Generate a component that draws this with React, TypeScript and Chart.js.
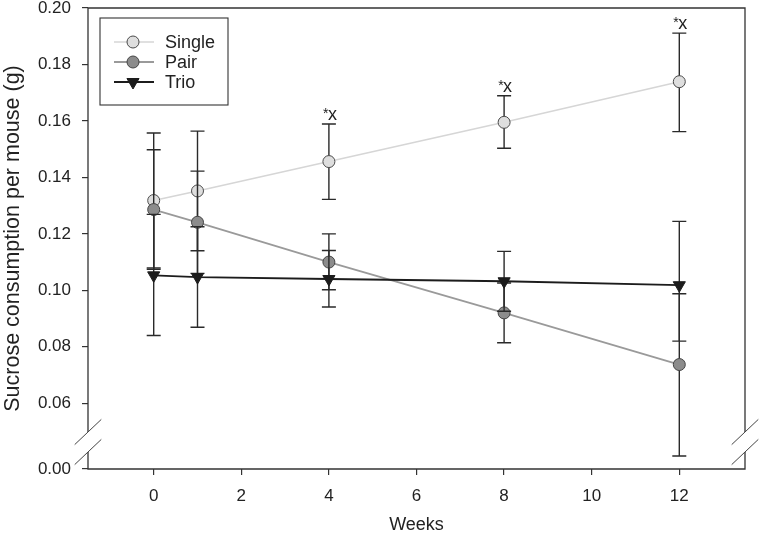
import React, { useEffect, useRef } from "react";
import { Chart, registerables } from "chart.js";

Chart.register(...registerables);

// ---------- data ----------
const weeks = [0, 1, 4, 8, 12];

const singleMean = [0.1318, 0.1352, 0.1456, 0.1595, 0.1739];
const singleUpper = [0.1557, 0.1564, 0.1589, 0.1689, 0.1911];
const singleLower = [0.1079, 0.114, 0.1322, 0.1503, 0.1562];

const pairMean = [0.1286, 0.1241, 0.11, 0.092, 0.0737];
const pairUpper = [0.1498, 0.1422, 0.12, 0.1026, 0.0988];
const pairLower = [0.1074, 0.106, 0.1002, 0.0814, 0.0413];

const trioMean = [0.1053, 0.1047, 0.104, 0.1032, 0.1018];
const trioUpper = [0.1269, 0.1225, 0.1141, 0.1138, 0.1244];
const trioLower = [0.084, 0.0869, 0.0941, 0.0926, 0.082];

const sigWeeks = [4, 8, 12];
const sigMark = "*";
const sigLetter = "x";

const xTicks = [0, 2, 4, 6, 8, 10, 12];
const yTicks = [0.0, 0.06, 0.08, 0.1, 0.12, 0.14, 0.16, 0.18, 0.2];
// value on the (broken) linear axis where the "0.00" label sits
const yBreakBase = 0.0367;
const X_MIN = -1.5;
const X_MAX = 13.5;
const Y_MAX = 0.2;

const FONT = "'Liberation Sans', Arial, Helvetica, sans-serif";
const INK = "#222222";
const AXIS = "#333333";

type Series = {
  label: string;
  mean: number[];
  upper: number[];
  lower: number[];
  line: string;
  lineWidth: number;
  fill: string;
  border: string;
  pointStyle: string;
  radius: number;
  rotation: number;
  order: number;
};

const series: Series[] = [
  { label: "Single", mean: singleMean, upper: singleUpper, lower: singleLower, line: "#d6d6d6", lineWidth: 1.6, fill: "#dedede", border: "#4a4a4a", pointStyle: "circle", radius: 6, rotation: 0, order: 3 },
  { label: "Pair", mean: pairMean, upper: pairUpper, lower: pairLower, line: "#9a9a9a", lineWidth: 1.8, fill: "#8c8c8c", border: "#444444", pointStyle: "circle", radius: 6, rotation: 0, order: 2 },
  { label: "Trio", mean: trioMean, upper: trioUpper, lower: trioLower, line: "#1c1c1c", lineWidth: 1.8, fill: "#1c1c1c", border: "#1c1c1c", pointStyle: "triangle", radius: 7, rotation: 180, order: 1 },
];

// ---------- plugins ----------
const errorBarPlugin = {
  id: "errorBars",
  beforeDatasetDraw(chart: any, args: any) {
    const s = series[args.index];
    if (!s) return;
    const { ctx } = chart;
    const xs = chart.scales.x;
    const ys = chart.scales.y;
    ctx.save();
    ctx.strokeStyle = "#2a2a2a";
    ctx.lineWidth = 1.4;
    weeks.forEach((w, i) => {
      const px = xs.getPixelForValue(w);
      const pu = ys.getPixelForValue(s.upper[i]);
      const pl = ys.getPixelForValue(s.lower[i]);
      ctx.beginPath();
      ctx.moveTo(px, pu);
      ctx.lineTo(px, pl);
      ctx.moveTo(px - 7, pu);
      ctx.lineTo(px + 7, pu);
      ctx.moveTo(px - 7, pl);
      ctx.lineTo(px + 7, pl);
      ctx.stroke();
    });
    ctx.restore();
  },
};

const framePlugin = {
  id: "frame",
  afterDatasetsDraw(chart: any) {
    const { ctx, chartArea } = chart;
    const { left, right, top, bottom } = chartArea;
    const gapTop = bottom - 37;
    const gapBot = bottom - 17;
    ctx.save();
    ctx.strokeStyle = AXIS;
    ctx.lineWidth = 1.3;
    ctx.beginPath();
    ctx.moveTo(left, gapTop);
    ctx.lineTo(left, top);
    ctx.lineTo(right, top);
    ctx.lineTo(right, gapTop);
    ctx.moveTo(left, gapBot);
    ctx.lineTo(left, bottom);
    ctx.lineTo(right, bottom);
    ctx.lineTo(right, gapBot);
    ctx.stroke();
    ctx.lineWidth = 1;
    ctx.strokeStyle = "#444444";
    [left, right].forEach((ax) => {
      [gapTop, gapBot].forEach((yc) => {
        ctx.beginPath();
        ctx.moveTo(ax - 13.3, yc + 12.6);
        ctx.lineTo(ax + 13.3, yc - 12.6);
        ctx.stroke();
      });
    });
    ctx.restore();
  },
};

const annotationPlugin = {
  id: "sigLabels",
  afterDatasetsDraw(chart: any) {
    const { ctx } = chart;
    const xs = chart.scales.x;
    const ys = chart.scales.y;
    ctx.save();
    ctx.fillStyle = INK;
    sigWeeks.forEach((w) => {
      const i = weeks.indexOf(w);
      const px = xs.getPixelForValue(w);
      const py = ys.getPixelForValue(singleUpper[i]);
      ctx.textBaseline = "alphabetic";
      ctx.font = `18px ${FONT}`;
      ctx.textAlign = "left";
      ctx.fillText(sigLetter, px - 1, py - 4);
      ctx.font = `14px ${FONT}`;
      ctx.textAlign = "right";
      ctx.fillText(sigMark, px - 0.5, py - 6);
    });
    ctx.restore();
  },
};

const legendPlugin = {
  id: "customLegend",
  afterDatasetsDraw(chart: any) {
    const { ctx, chartArea } = chart;
    const bx = chartArea.left + 12;
    const by = chartArea.top + 10;
    const bw = 128;
    const bh = 87;
    ctx.save();
    ctx.fillStyle = "#ffffff";
    ctx.fillRect(bx, by, bw, bh);
    ctx.strokeStyle = AXIS;
    ctx.lineWidth = 1.1;
    ctx.strokeRect(bx, by, bw, bh);
    series.forEach((s, k) => {
      const cy = by + 24 + k * 20;
      const x0 = bx + 14;
      const x1 = bx + 54;
      const mx = bx + 33;
      ctx.strokeStyle = s.line;
      ctx.lineWidth = s.lineWidth;
      ctx.beginPath();
      ctx.moveTo(x0, cy);
      ctx.lineTo(x1, cy);
      ctx.stroke();
      ctx.fillStyle = s.fill;
      ctx.strokeStyle = s.border;
      ctx.lineWidth = 1;
      ctx.beginPath();
      if (s.pointStyle === "circle") {
        ctx.arc(mx, cy, s.radius, 0, Math.PI * 2);
      } else {
        const r = s.radius;
        ctx.moveTo(mx, cy + r);
        ctx.lineTo(mx - r * 0.866, cy - r / 2);
        ctx.lineTo(mx + r * 0.866, cy - r / 2);
        ctx.closePath();
      }
      ctx.fill();
      ctx.stroke();
      ctx.fillStyle = INK;
      ctx.font = `18px ${FONT}`;
      ctx.textAlign = "left";
      ctx.textBaseline = "middle";
      ctx.fillText(s.label, bx + 65, cy + 1);
    });
    ctx.restore();
  },
};

export default function App() {
  const ref = useRef<HTMLCanvasElement>(null);

  useEffect(() => {
    document.body.style.margin = "0";
    Chart.defaults.font.family = FONT;
    const datasets = series.map((s) => ({
      label: s.label,
      data: weeks.map((w, i) => ({ x: w, y: s.mean[i] })),
      showLine: true,
      borderColor: s.line,
      borderWidth: s.lineWidth,
      backgroundColor: s.fill,
      pointStyle: s.pointStyle,
      pointRadius: s.radius,
      pointHoverRadius: s.radius,
      pointRotation: s.rotation,
      pointBackgroundColor: s.fill,
      pointBorderColor: s.border,
      pointBorderWidth: 1,
      tension: 0,
      fill: false,
      order: s.order,
      clip: false as any,
    }));

    const chart = new Chart(ref.current as HTMLCanvasElement, {
      type: "scatter",
      data: { datasets: datasets as any },
      options: {
        responsive: false,
        animation: false,
        devicePixelRatio: 1,
        layout: { padding: { top: 7, right: 14, left: 0, bottom: 0 } },
        plugins: {
          legend: { display: false },
          tooltip: { enabled: false },
        },
        scales: {
          x: {
            type: "linear",
            min: X_MIN,
            max: X_MAX,
            afterBuildTicks: (s: any) => {
              s.ticks = xTicks.map((v) => ({ value: v }));
            },
            afterFit: (s: any) => {
              s.height = 73;
              s.paddingLeft = 0;
              s.paddingRight = 0;
            },
            ticks: {
              color: INK,
              padding: 11,
              font: { size: 17, family: FONT },
              callback: (v: any) => String(v),
              autoSkip: false,
              maxRotation: 0,
            },
            grid: { drawOnChartArea: false, drawTicks: true, tickLength: 6, color: AXIS, lineWidth: 1.2 },
            border: { display: false },
            title: {
              display: true,
              text: "Weeks",
              color: INK,
              font: { size: 18, family: FONT },
              padding: { top: 0, bottom: 6 },
            },
          },
          y: {
            type: "linear",
            min: yBreakBase,
            max: Y_MAX,
            afterBuildTicks: (s: any) => {
              s.ticks = yTicks.map((v) => ({ value: v === 0 ? yBreakBase : v }));
            },
            afterFit: (s: any) => {
              s.width = 88;
              s.paddingTop = 0;
              s.paddingBottom = 0;
            },
            ticks: {
              color: INK,
              padding: 11,
              font: { size: 17, family: FONT },
              autoSkip: false,
              callback: (v: any) =>
                Math.abs(Number(v) - yBreakBase) < 1e-9 ? yTicks[0].toFixed(2) : Number(v).toFixed(2),
            },
            grid: { drawOnChartArea: false, drawTicks: true, tickLength: 6, color: AXIS, lineWidth: 1.2 },
            border: { display: false },
            title: {
              display: true,
              text: "Sucrose consumption per mouse (g)",
              color: INK,
              font: { size: 21.5, family: FONT },
              padding: { top: 0, bottom: 0 },
            },
          },
        },
      },
      plugins: [errorBarPlugin, framePlugin, annotationPlugin, legendPlugin],
    } as any);
    return () => chart.destroy();
  }, []);

  return (
    <div style={{ width: 759, height: 542 }}>
      <canvas ref={ref} width={759} height={542} style={{ display: "block" }} />
    </div>
  );
}
